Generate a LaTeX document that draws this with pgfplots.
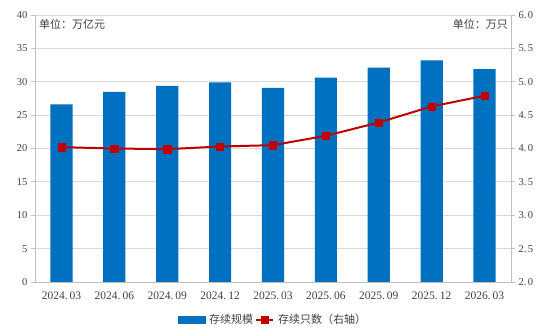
\documentclass[border=0pt]{standalone}
\usepackage{pgfplots}
\pgfplotsset{compat=1.18}
\usepackage{fontspec}
\setmainfont{Liberation Serif}
\newfontfamily\cjk{Noto Sans CJK SC}
\definecolor{barblue}{HTML}{0070C0}
\definecolor{linered}{HTML}{C00000}
\definecolor{gridgray}{HTML}{D9D9D9}
\definecolor{axgray}{HTML}{BFBFBF}
\definecolor{txt}{HTML}{404040}
\begin{document}
\begin{tikzpicture}
\path[use as bounding box] (-35pt,-50pt) rectangle (515pt,282pt);
\begin{axis}[
  at={(0,0)}, anchor=south west,
  scale only axis, width=476pt, height=267pt,
  xmin=-0.5, xmax=8.5, ymin=0, ymax=40, ytick={0,5,...,40},
  xtick={0,...,8},
  xticklabels={2024.\kern2pt03,2024.\kern2pt06,2024.\kern2pt09,2024.\kern2pt12,2025.\kern2pt03,2025.\kern2pt06,2025.\kern2pt09,2025.\kern2pt12,2026.\kern2pt03},
  x tick style={draw=none},
  ymajorgrids, grid style={gridgray, line width=0.8pt},
  axis x line*=bottom, axis y line*=left,
  axis line style={-, axgray, line width=0.8pt},
  y tick style={axgray, line width=0.8pt}, tick align=outside, major tick length=4pt,
  yticklabel style={font=\fontsize{10.5}{12}\selectfont, text=txt},
  xticklabel style={font=\fontsize{11.5}{12}\selectfont, text=txt, yshift=-2pt},
  /pgf/number format/assume math mode=true,
]
\addplot[ybar, bar width=0.42, fill=barblue, draw=none] coordinates {
(0,26.6) (1,28.5) (2,29.4) (3,29.9) (4,29.1) (5,30.6) (6,32.1) (7,33.2) (8,31.9)};
\node[anchor=north west, font=\cjk\fontsize{11}{12}\selectfont, text=txt, inner sep=1pt] at ([xshift=3pt,yshift=-3pt]rel axis cs:0,1) {单位：万亿元};
\node[anchor=north east, font=\cjk\fontsize{11}{12}\selectfont, text=txt, inner sep=1pt] at ([xshift=-2pt,yshift=-3pt]rel axis cs:1,1) {单位：万只};
\end{axis}
\begin{axis}[
  at={(0,0)}, anchor=south west,
  scale only axis, width=476pt, height=267pt,
  xmin=-0.5, xmax=8.5, ymin=2, ymax=6, ytick={2,2.5,...,6},
  axis x line=none, axis y line*=right,
  axis line style={-, axgray, line width=0.8pt},
  y tick style={axgray, line width=0.8pt}, tick align=outside, major tick length=4pt,
  yticklabel style={font=\fontsize{10.5}{12}\selectfont, text=txt},
  yticklabel={\pgfmathparse{int(floor(\tick+0.001))}\pgfmathresult.\kern1.5pt\pgfmathparse{int(round(10*(\tick-floor(\tick+0.001))))}\pgfmathresult},
  legend style={at={(0.5,-0.105)}, anchor=north, legend columns=2, draw=none, fill=none,
    font=\cjk\fontsize{11}{12}\selectfont, text=txt,
    /tikz/every odd column/.append style={column sep=2pt}},
]
\addlegendimage{legend image code/.code={\fill[barblue] (0cm,-0.13cm) rectangle (0.95cm,0.13cm);}}
\addlegendentry{存续规模}
\addplot[linered, line width=2pt, mark=square*, mark size=3.6pt, mark options={fill=linered, draw=linered, line width=0.5pt}] coordinates {
(0,4.02) (1,4.00) (2,3.99) (3,4.03) (4,4.05) (5,4.19) (6,4.39) (7,4.63) (8,4.79)};
\addlegendentry{存续只数（右轴）}
\end{axis}
\end{tikzpicture}
\end{document}
